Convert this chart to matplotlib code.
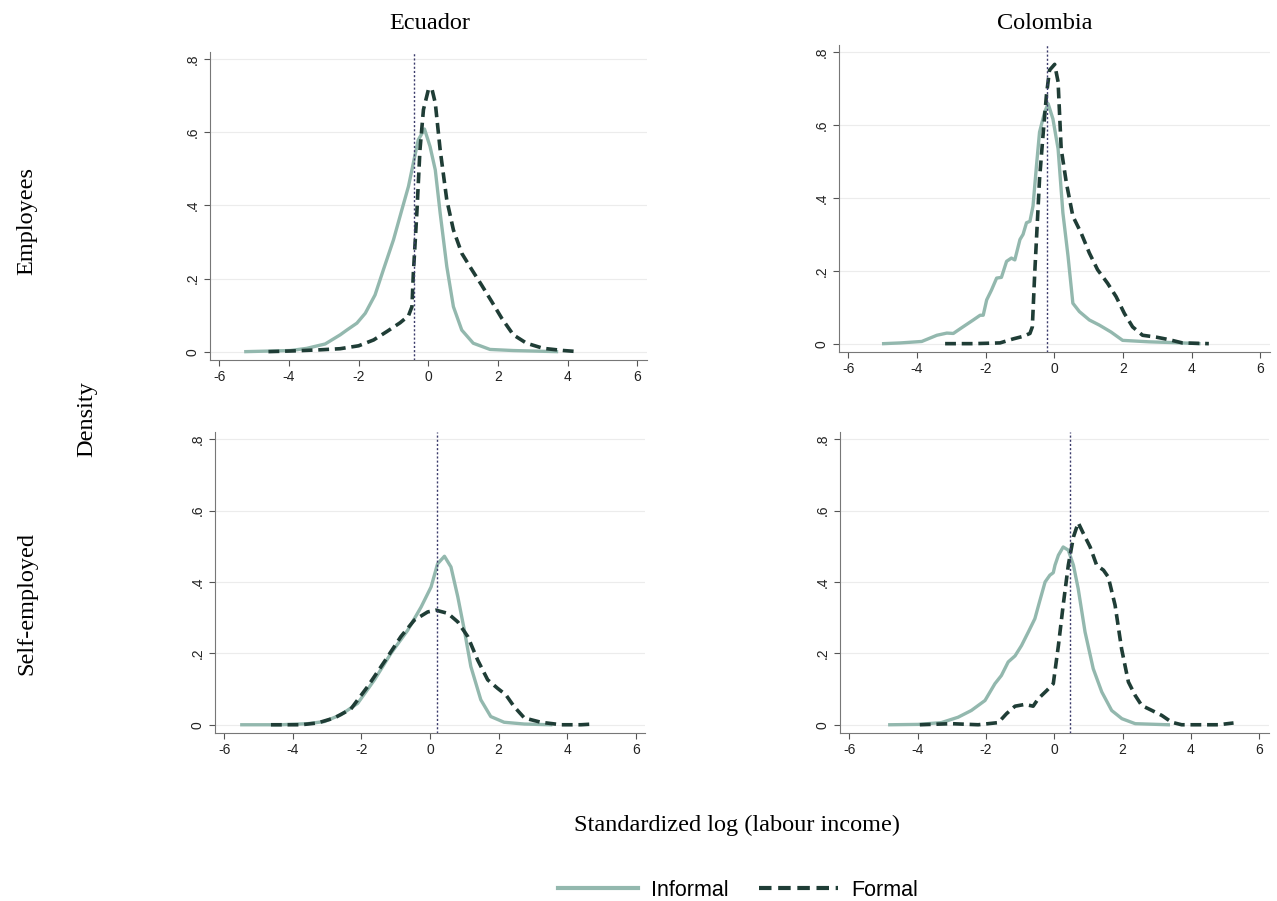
import matplotlib.pyplot as plt
from matplotlib.lines import Line2D

plt.rcParams['axes.unicode_minus'] = False

# Density curves: (x, density) pairs
# Ecuador, employees
ecu_emp_inf_x = [-5.24, -3.96, -3.49, -2.96, -2.53, -2.34, -2.05, -1.81, -1.53, -1.29, -1.00, -0.76,
                 -0.57, -0.43, -0.29, -0.11, 0.05, 0.20, 0.34, 0.53, 0.72, 0.96, 1.29, 1.77, 2.44, 3.68]
ecu_emp_inf_y = [0.0, 0.003, 0.009, 0.021, 0.046, 0.059, 0.078, 0.105, 0.155, 0.224, 0.306, 0.388,
                 0.452, 0.516, 0.579, 0.609, 0.561, 0.497, 0.379, 0.233, 0.123, 0.059, 0.023, 0.006, 0.003, 0.0]
ecu_emp_for_x = [-4.59, -3.87, -3.10, -2.53, -2.00, -1.57, -1.19, -0.81, -0.57, -0.47, -0.43, -0.33,
                 -0.24, -0.14, 0.0, 0.10, 0.20, 0.34, 0.53, 0.72, 0.96, 1.25, 1.53, 1.82, 2.11, 2.44,
                 2.82, 3.30, 3.88, 4.31]
ecu_emp_for_y = [0.0, 0.002, 0.005, 0.008, 0.016, 0.032, 0.055, 0.079, 0.098, 0.123, 0.214, 0.379,
                 0.552, 0.662, 0.716, 0.720, 0.680, 0.552, 0.415, 0.333, 0.269, 0.224, 0.182, 0.137,
                 0.091, 0.046, 0.023, 0.009, 0.003, 0.0]

# Colombia, employees
col_emp_inf_x = [-4.97, -4.48, -3.86, -3.42, -3.13, -2.94, -2.74, -2.55, -2.36, -2.16, -2.07, -1.97,
                 -1.83, -1.68, -1.54, -1.39, -1.25, -1.15, -1.00, -0.91, -0.81, -0.71, -0.62, -0.52,
                 -0.43, -0.28, -0.18, -0.04, 0.11, 0.25, 0.40, 0.54, 0.73, 1.02, 1.31, 1.65, 1.99,
                 2.76, 3.73, 4.21]
col_emp_inf_y = [0.0, 0.002, 0.006, 0.023, 0.029, 0.028, 0.041, 0.053, 0.065, 0.078, 0.078, 0.120,
                 0.147, 0.180, 0.182, 0.226, 0.235, 0.230, 0.286, 0.300, 0.332, 0.336, 0.378, 0.488,
                 0.581, 0.636, 0.659, 0.617, 0.535, 0.359, 0.240, 0.111, 0.088, 0.065, 0.051, 0.032,
                 0.009, 0.005, 0.002, 0.0]
col_emp_for_x = [-3.18, -2.36, -1.58, -1.20, -0.91, -0.71, -0.64, -0.57, -0.50, -0.43, -0.33, -0.23,
                 -0.14, 0.01, 0.11, 0.20, 0.35, 0.54, 0.78, 1.02, 1.26, 1.55, 1.80, 2.04, 2.28, 2.57,
                 2.96, 3.34, 3.73, 4.50]
col_emp_for_y = [0.0, 0.0, 0.002, 0.013, 0.020, 0.028, 0.046, 0.194, 0.323, 0.452, 0.571, 0.682,
                 0.751, 0.767, 0.719, 0.535, 0.442, 0.350, 0.304, 0.249, 0.203, 0.166, 0.129, 0.083,
                 0.046, 0.023, 0.018, 0.011, 0.002, 0.0]

# Ecuador, self-employed
ecu_self_inf_x = [-5.49, -4.35, -3.57, -3.08, -2.60, -2.11, -1.62, -1.14, -0.65, -0.26, 0.03, 0.22,
                  0.42, 0.61, 0.81, 1.00, 1.19, 1.48, 1.77, 2.16, 2.75, 3.52]
ecu_self_inf_y = [0.0, 0.0, 0.003, 0.009, 0.028, 0.060, 0.126, 0.200, 0.265, 0.330, 0.386, 0.451,
                  0.472, 0.442, 0.358, 0.265, 0.163, 0.070, 0.023, 0.007, 0.002, 0.0]
ecu_self_for_x = [-4.64, -3.76, -3.28, -2.79, -2.31, -1.82, -1.33, -0.85, -0.46, -0.07, 0.17, 0.52,
                  0.81, 1.10, 1.39, 1.68, 1.97, 2.21, 2.45, 2.75, 3.23, 3.82, 4.40, 4.76]
ecu_self_for_y = [0.0, 0.0, 0.005, 0.019, 0.044, 0.107, 0.177, 0.247, 0.293, 0.316, 0.321, 0.312,
                  0.288, 0.247, 0.181, 0.126, 0.102, 0.084, 0.051, 0.019, 0.007, 0.0, 0.0, 0.002]

# Colombia, self-employed
col_self_inf_x = [-4.82, -3.99, -3.31, -2.82, -2.43, -2.03, -1.74, -1.55, -1.35, -1.15, -0.96, -0.76,
                  -0.57, -0.42, -0.27, -0.13, -0.03, 0.02, 0.12, 0.26, 0.41, 0.56, 0.70, 0.90, 1.14,
                  1.39, 1.68, 1.98, 2.37, 3.34]
col_self_inf_y = [0.0, 0.001, 0.006, 0.021, 0.040, 0.068, 0.115, 0.138, 0.176, 0.193, 0.222, 0.260,
                  0.297, 0.349, 0.400, 0.419, 0.426, 0.447, 0.475, 0.498, 0.489, 0.447, 0.381, 0.260,
                  0.157, 0.092, 0.040, 0.017, 0.003, 0.0]
col_self_for_x = [-3.94, -3.01, -2.23, -1.64, -1.40, -1.15, -0.86, -0.62, -0.47, -0.22, -0.03, 0.12,
                  0.26, 0.41, 0.56, 0.70, 0.85, 1.05, 1.24, 1.44, 1.58, 1.78, 1.97, 2.17, 2.37, 2.56,
                  2.86, 3.15, 3.44, 3.73, 4.81, 5.25]
col_self_for_y = [0.0, 0.003, 0.0, 0.006, 0.031, 0.052, 0.057, 0.052, 0.073, 0.096, 0.115, 0.222,
                  0.335, 0.447, 0.526, 0.566, 0.536, 0.498, 0.447, 0.433, 0.414, 0.335, 0.213, 0.120,
                  0.082, 0.054, 0.040, 0.026, 0.007, 0.0, 0.0, 0.005]

# vertical reference lines
ref_x = [-0.42, -0.22, 0.20, 0.47]

countries = ['Ecuador', 'Colombia']
rows = ['Employees', 'Self-employed']
yticks = [0, 0.2, 0.4, 0.6, 0.8]
ytick_labels = ['0', '.2', '.4', '.6', '.8']
xticks = [-6, -4, -2, 0, 2, 4, 6]

c_inf = '#93b8ae'
c_for = '#1f3d36'
c_ref = '#3b3b6b'

panels = [
    (ecu_emp_inf_x, ecu_emp_inf_y, ecu_emp_for_x, ecu_emp_for_y, ref_x[0], [0.1644, 0.6004, 0.3423, 0.3420]),
    (col_emp_inf_x, col_emp_inf_y, col_emp_for_x, col_emp_for_y, ref_x[1], [0.6570, 0.6093, 0.3375, 0.3407]),
    (ecu_self_inf_x, ecu_self_inf_y, ecu_self_for_x, ecu_self_for_y, ref_x[2], [0.1684, 0.1865, 0.3370, 0.3340]),
    (col_self_inf_x, col_self_inf_y, col_self_for_x, col_self_for_y, ref_x[3], [0.6580, 0.1865, 0.3355, 0.3340]),
]

fig = plt.figure(figsize=(12.77, 9.01), dpi=100)

for inf_x, inf_y, for_x, for_y, rx, pos in panels:
    ax = fig.add_axes(pos)
    ax.set_xlim(-6.27, 6.28)
    ax.set_ylim(-0.023, 0.82)
    ax.set_yticks(yticks)
    ax.set_yticklabels(ytick_labels, rotation=90, va='center')
    ax.set_xticks(xticks)
    ax.grid(axis='y', color='#ececec', linewidth=0.8)
    ax.set_axisbelow(True)
    for s in ['top', 'right']:
        ax.spines[s].set_visible(False)
    for s in ['left', 'bottom']:
        ax.spines[s].set_color('#777777')
    ax.tick_params(colors='#555555', labelcolor='#222222', labelsize=10, length=4)
    for lab in ax.get_xticklabels() + ax.get_yticklabels():
        lab.set_family('Liberation Sans')
    ax.plot(inf_x, inf_y, color=c_inf, linewidth=2.4, solid_joinstyle='round')
    ax.plot(for_x, for_y, color=c_for, linewidth=2.6, dashes=(3, 1.6))
    ax.axvline(rx, color=c_ref, linewidth=1.0, linestyle=(0, (1.5, 1.5)))

serif = ['Liberation Serif', 'DejaVu Serif']
fs = 17.5
fig.text(0.3367, 0.974, countries[0], ha='center', va='center', fontsize=fs, family=serif)
fig.text(0.818, 0.974, countries[1], ha='center', va='center', fontsize=fs, family=serif)
fig.text(0.021, 0.755, rows[0], ha='center', va='center', rotation=90, fontsize=fs, family=serif)
fig.text(0.021, 0.33, rows[1], ha='center', va='center', rotation=90, fontsize=fs, family=serif)
fig.text(0.068, 0.535, 'Density', ha='center', va='center', rotation=90, fontsize=fs, family=serif)
fig.text(0.577, 0.084, 'Standardized log (labour income)', ha='center', va='center', fontsize=fs, family=serif)

handles = [Line2D([], [], color=c_inf, linewidth=3),
           Line2D([], [], color=c_for, linewidth=3, dashes=(3, 1.6))]
fig.legend(handles, ['Informal', 'Formal'], loc='center', bbox_to_anchor=(0.578, 0.012),
           ncol=2, frameon=False, handlelength=3.7, handletextpad=0.6, columnspacing=1.4,
           prop={'family': 'Liberation Sans', 'size': 15.5})

plt.savefig('out.png', dpi=100)
